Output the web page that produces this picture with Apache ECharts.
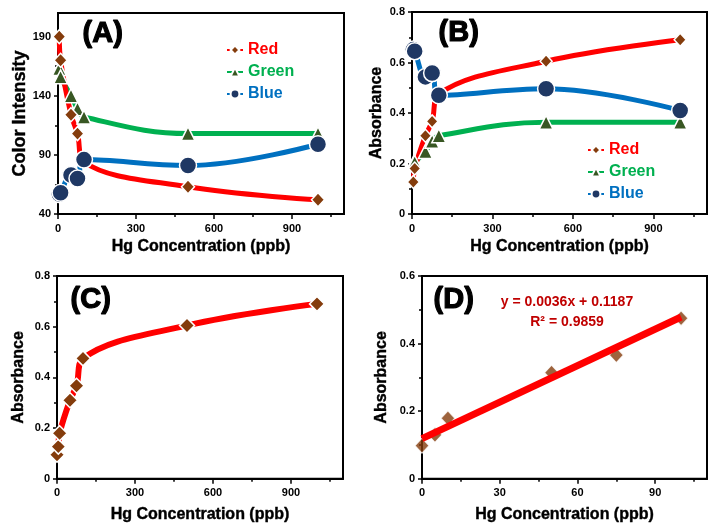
<!DOCTYPE html>
<html>
<head>
<meta charset="utf-8">
<script src="https://cdn.jsdelivr.net/npm/echarts@6/dist/echarts.min.js"></script>
<style>
html,body{margin:0;padding:0;background:#fff;}
#c{width:710px;height:524px;}
</style>
</head>
<body>
<div id="c"></div>
<script>
// ---- data ----
const xAB = [5, 10, 50, 75, 100, 500, 1000];
const redA = [190, 170, 124, 108, 84, 63, 52];
const greenA = [163, 156, 140, 129, 122, 108, 108];
const blueA = [57, 58, 73, 70, 86, 81, 99];

const redB = [0.127, 0.18, 0.31, 0.367, 0.475, 0.605, 0.69];
const greenB = [0.2, 0.205, 0.248, 0.288, 0.31, 0.363, 0.363];
const blueB = [0.651, 0.645, 0.543, 0.558, 0.47, 0.496, 0.41];

const xC = [0, 5, 10, 50, 75, 100, 500, 1000];
const redC = [0.095, 0.127, 0.18, 0.31, 0.367, 0.475, 0.605, 0.69];

const xD = [0, 5, 10, 50, 75, 100];
const redD = [0.098, 0.13, 0.179, 0.314, 0.366, 0.475];
const trendX = [0, 100];
const trendY = [0.1187, 0.4787];

const ticksX1000 = [0, 300, 600, 900];
const minorX1000 = [150, 450, 750, 1050];
const ticksX100 = [0, 30, 60, 90];
const minorX100 = [15, 45, 75, 105];
const ticksYA = [40, 90, 140, 190];
const minorYA = [65, 115, 165];
const ticksY08 = [0, 0.2, 0.4, 0.6, 0.8];
const minorY08 = [0.1, 0.3, 0.5, 0.7];
const ticksY06 = [0, 0.2, 0.4, 0.6];
const minorY06 = [0.1, 0.3, 0.5];

const FONT = '"Liberation Sans", Arial, sans-serif';
const zip = (xs, ys) => xs.map((x, i) => [x, ys[i]]);

const grids = [
  {left: 58, top: 13, width: 286, height: 201},
  {left: 412, top: 12, width: 295, height: 202},
  {left: 57, top: 276, width: 286, height: 203},
  {left: 422, top: 276, width: 285, height: 203}
].map(g => Object.assign(g, {show: true, borderColor: '#000', borderWidth: 2, backgroundColor: '#fff'}));

function mainX(gi, min, max, ticks, gap) {
  return {
    type: 'value', gridIndex: gi, min: min, max: max, position: 'bottom',
    name: 'Hg Concentration (ppb)', nameLocation: 'middle', nameGap: gap,
    nameTextStyle: {fontFamily: FONT, fontWeight: 'bold', fontSize: 16, color: '#000', textBorderColor: '#000', textBorderWidth: 0.4},
    axisLine: {show: true, onZero: false, lineStyle: {color: '#000', width: 2}},
    axisTick: {show: true, customValues: ticks, length: 5, lineStyle: {color: '#000', width: 1.5}},
    axisLabel: {customValues: ticks, fontFamily: FONT, fontWeight: 'bold', fontSize: 11, color: '#000', margin: 9},
    splitLine: {show: false}
  };
}
function minorX(gi, min, max, ticks) {
  return {
    type: 'value', gridIndex: gi, min: min, max: max, position: 'bottom',
    axisLine: {show: false},
    axisTick: {show: true, customValues: ticks, length: 3, lineStyle: {color: '#000', width: 1.5}},
    axisLabel: {show: false}, splitLine: {show: false}
  };
}
function mainY(gi, min, max, ticks, name, gap, fs) {
  return {
    type: 'value', gridIndex: gi, min: min, max: max, position: 'left',
    name: name, nameLocation: 'middle', nameGap: gap,
    nameTextStyle: {fontFamily: FONT, fontWeight: 'bold', fontSize: fs, color: '#000', textBorderColor: '#000', textBorderWidth: 0.4},
    axisLine: {show: true, onZero: false, lineStyle: {color: '#000', width: 2}},
    axisTick: {show: true, customValues: ticks, length: 4, lineStyle: {color: '#000', width: 1.5}},
    axisLabel: {customValues: ticks, fontFamily: FONT, fontWeight: 'bold', fontSize: 11, color: '#000', margin: 7},
    splitLine: {show: false}
  };
}
function minorY(gi, min, max, ticks) {
  return {
    type: 'value', gridIndex: gi, min: min, max: max, position: 'left',
    axisLine: {show: false},
    axisTick: {show: true, customValues: ticks, length: 3, lineStyle: {color: '#000', width: 1.5}},
    axisLabel: {show: false}, splitLine: {show: false}
  };
}

const C_RED = '#ff0000', C_GREEN = '#00b050', C_BLUE = '#0070c0';
const M_RED = '#843c0c', M_GREEN = '#385723', M_BLUE = '#1f3864';

function ser(name, xi, yi, xs, ys, lineColor, lw, symbol, size, fill, smooth) {
  return {
    type: 'line', name: name, xAxisIndex: xi, yAxisIndex: yi,
    data: zip(xs, ys), smooth: smooth, symbol: symbol, symbolSize: size,
    showAllSymbol: true,
    lineStyle: {color: lineColor, width: lw},
    itemStyle: {color: fill, borderColor: '#fff', borderWidth: 1.5},
    emphasis: {disabled: true}, silent: true
  };
}

const labelStyle = {font: 'bold 29px ' + FONT, fill: '#000', stroke: '#000', lineWidth: 1.2,
  shadowColor: 'rgba(0,0,0,0.45)', shadowBlur: 3, shadowOffsetX: 2, shadowOffsetY: 2};

const option = {
  animation: false,
  backgroundColor: '#fff',
  grid: grids,
  xAxis: [
    mainX(0, 0, 1100, ticksX1000, 25),
    mainX(1, 0, 1100, ticksX1000, 25),
    mainX(2, 0, 1100, ticksX1000, 28),
    mainX(3, 0, 110, ticksX100, 28),
    minorX(0, 0, 1100, minorX1000),
    minorX(1, 0, 1100, minorX1000),
    minorX(2, 0, 1100, minorX1000),
    minorX(3, 0, 110, minorX100)
  ],
  yAxis: [
    mainY(0, 40, 210, ticksYA, 'Color Intensity', 29, 18),
    mainY(1, 0, 0.8, ticksY08, 'Absorbance', 27, 16),
    mainY(2, 0, 0.8, ticksY08, 'Absorbance', 30, 16),
    mainY(3, 0, 0.6, ticksY06, 'Absorbance', 32, 16),
    minorY(0, 40, 210, minorYA),
    minorY(1, 0, 0.8, minorY08),
    minorY(2, 0, 0.8, minorY08),
    minorY(3, 0, 0.6, minorY06)
  ],
  legend: [
    {
      orient: 'vertical', left: 221, top: 37, itemGap: 6, itemWidth: 16, itemHeight: 11,
      selectedMode: false,
      textStyle: {fontFamily: FONT, fontWeight: 'bold', fontSize: 16},
      data: [
        {name: 'Red', textStyle: {color: C_RED}},
        {name: 'Green', textStyle: {color: C_GREEN}},
        {name: 'Blue', textStyle: {color: C_BLUE}}
      ]
    },
    {
      orient: 'vertical', left: 582, top: 137, itemGap: 6, itemWidth: 16, itemHeight: 11,
      selectedMode: false,
      textStyle: {fontFamily: FONT, fontWeight: 'bold', fontSize: 16},
      data: [
        {name: 'Red', textStyle: {color: C_RED}},
        {name: 'Green', textStyle: {color: C_GREEN}},
        {name: 'Blue', textStyle: {color: C_BLUE}}
      ]
    }
  ],
  series: [
    ser('Green', 0, 0, xAB, greenA, C_GREEN, 5, 'triangle', 14, M_GREEN, 0.4),
    ser('Red', 0, 0, xAB, redA, C_RED, 5, 'diamond', [13, 14], M_RED, 0.4),
    ser('Blue', 0, 0, xAB, blueA, C_BLUE, 5, 'circle', 17, M_BLUE, 0.4),
    ser('Green', 1, 1, xAB, greenB, C_GREEN, 5, 'triangle', 14, M_GREEN, 0.4),
    ser('Red', 1, 1, xAB, redB, C_RED, 5, 'diamond', [12, 13], M_RED, 0.4),
    ser('Blue', 1, 1, xAB, blueB, C_BLUE, 5, 'circle', 17, M_BLUE, 0.4),
    ser('RedC', 2, 2, xC, redC, C_RED, 6, 'diamond', [15, 15], M_RED, 0.4),
    {
      type: 'scatter', name: 'RedD', xAxisIndex: 3, yAxisIndex: 3,
      data: zip(xD, redD), symbol: 'diamond', symbolSize: [14, 15],
      itemStyle: {color: M_RED, borderColor: '#fff', borderWidth: 1.2}, silent: true, z: 2
    },
    {
      type: 'line', name: 'Trend', xAxisIndex: 3, yAxisIndex: 3,
      data: zip(trendX, trendY), symbol: 'none',
      lineStyle: {color: C_RED, width: 7}, silent: true, z: 5
    }
  ],
  graphic: [
    {type: 'text', left: 82, top: 19, z: 100, style: Object.assign({text: '(A)'}, labelStyle)},
    {type: 'text', left: 438, top: 18, z: 100, style: Object.assign({text: '(B)'}, labelStyle)},
    {type: 'text', left: 70, top: 285, z: 100, style: Object.assign({text: '(C)'}, labelStyle)},
    {type: 'text', left: 433, top: 285, z: 100, style: Object.assign({text: '(D)'}, labelStyle)},
    {type: 'text', x: 567, y: 302, z: 100, style: {text: 'y = 0.0036x + 0.1187', font: 'bold 14px ' + FONT, fill: '#c00000', textAlign: 'center', textVerticalAlign: 'middle'}},
    {type: 'text', x: 567, y: 322, z: 100, style: {text: 'R² = 0.9859', font: 'bold 14px ' + FONT, fill: '#c00000', textAlign: 'center', textVerticalAlign: 'middle'}}
  ]
};

const chart = echarts.init(document.getElementById('c'), null, {renderer: 'canvas'});
chart.setOption(option);
</script>
</body>
</html>
